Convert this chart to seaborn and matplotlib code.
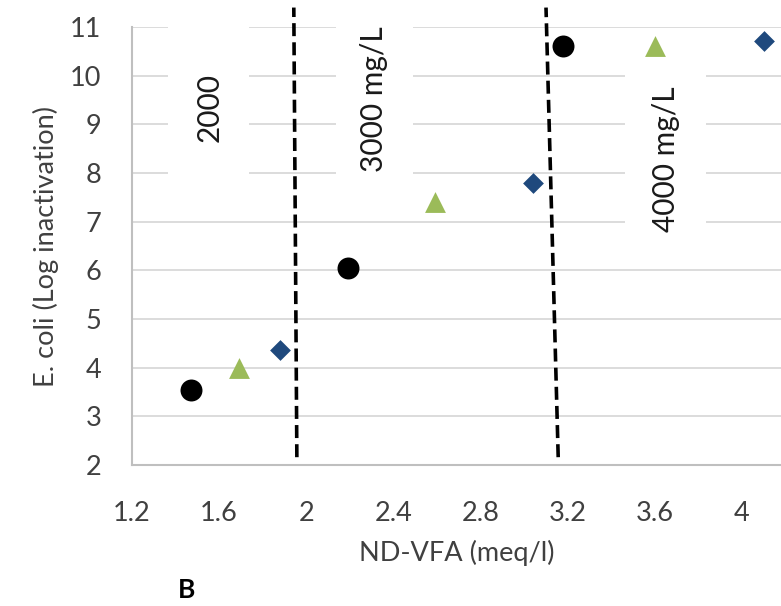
import matplotlib
matplotlib.use("Agg")
import matplotlib.pyplot as plt
import seaborn as sns
import pandas as pd
from matplotlib.patches import Rectangle

# values
circle_x = [1.47, 2.19, 3.18]
circle_y = [3.54, 6.04, 10.60]
triangle_x = [1.69, 2.59, 3.60]
triangle_y = [3.99, 7.40, 10.62]
diamond_x = [1.88, 3.04, 4.10]
diamond_y = [4.36, 7.80, 10.71]

# dashed dividers (slightly slanted), bottom -> top
divider1_x = [1.957, 1.943]
divider2_x = [3.157, 3.101]
divider_y = [2.16, 11.40]

labels = ["2000", "3000 mg/L", "4000 mg/L"]
label_x = [1.555, 2.31, 3.65]
label_y = [9.35, 9.52, 8.28]
# white label boxes: (x0, x1, y0, y1)
label_boxes = [(1.366, 1.735, 7.54, 11.34),
               (2.137, 2.492, 7.54, 11.45),
               (3.466, 3.835, 6.46, 10.52)]

xticks = [1.2, 1.6, 2, 2.4, 2.8, 3.2, 3.6, 4]
yticks = list(range(2, 12))

sns.set_theme(style="white")
plt.rcParams['font.family'] = ['Lato', 'DejaVu Sans']

fig = plt.figure(figsize=(7.81, 6.06), dpi=100)
ax = fig.add_axes([0.169, 0.2327, 0.831, 0.7227])

ax.yaxis.grid(True, color="#d9d9d9", linewidth=1.3, zorder=0)
ax.set_axisbelow(True)

for (x0, x1, y0, y1) in label_boxes:
    ax.add_patch(Rectangle((x0, y0), x1 - x0, y1 - y0, facecolor="white",
                           edgecolor="none", zorder=1, clip_on=False))

for t, tx, ty in zip(labels, label_x, label_y):
    ax.text(tx, ty, t, rotation=90, ha="center", va="center",
            fontsize=21.5, color="#1a1a1a", zorder=2)

for dx in [divider1_x, divider2_x]:
    ax.plot(dx, divider_y, color="black", linewidth=2.6,
            dashes=(3.6, 1.7), clip_on=False, zorder=2)

sns.scatterplot(x=circle_x, y=circle_y, ax=ax, color="black", marker="o",
                s=250, linewidth=0, zorder=3, clip_on=False)
sns.scatterplot(x=triangle_x, y=triangle_y, ax=ax, color="#9bbb59", marker="^",
                s=225, linewidth=0, zorder=3, clip_on=False)
sns.scatterplot(x=diamond_x, y=diamond_y, ax=ax, color="#1f497d", marker="D",
                s=112, linewidth=0, zorder=3, clip_on=False)

ax.set_xlim(1.2, 4.18)
ax.set_ylim(2, 11)
ax.set_xticks(xticks)
ax.set_xticklabels([f"{v:g}" for v in xticks])
ax.set_yticks(yticks)
ax.tick_params(axis="both", labelsize=19.5, colors="#404040", length=0)
ax.tick_params(axis="y", pad=22)
ax.tick_params(axis="x", pad=26)

for side in ["top", "right"]:
    ax.spines[side].set_visible(False)
for side in ["left", "bottom"]:
    ax.spines[side].set_color("#bfbfbf")
    ax.spines[side].set_linewidth(1.5)

ax.set_xlabel("ND-VFA (meq/l)", fontsize=19.5, color="#404040", labelpad=10)
ax.set_ylabel("E. coli (Log inactivation)", fontsize=19.5, color="#404040", labelpad=8)

fig.text(187 / 781, 1 - 590 / 606, "B", fontsize=19, fontweight="bold",
         ha="center", va="center", color="black")

fig.savefig("out.png", dpi=100)
